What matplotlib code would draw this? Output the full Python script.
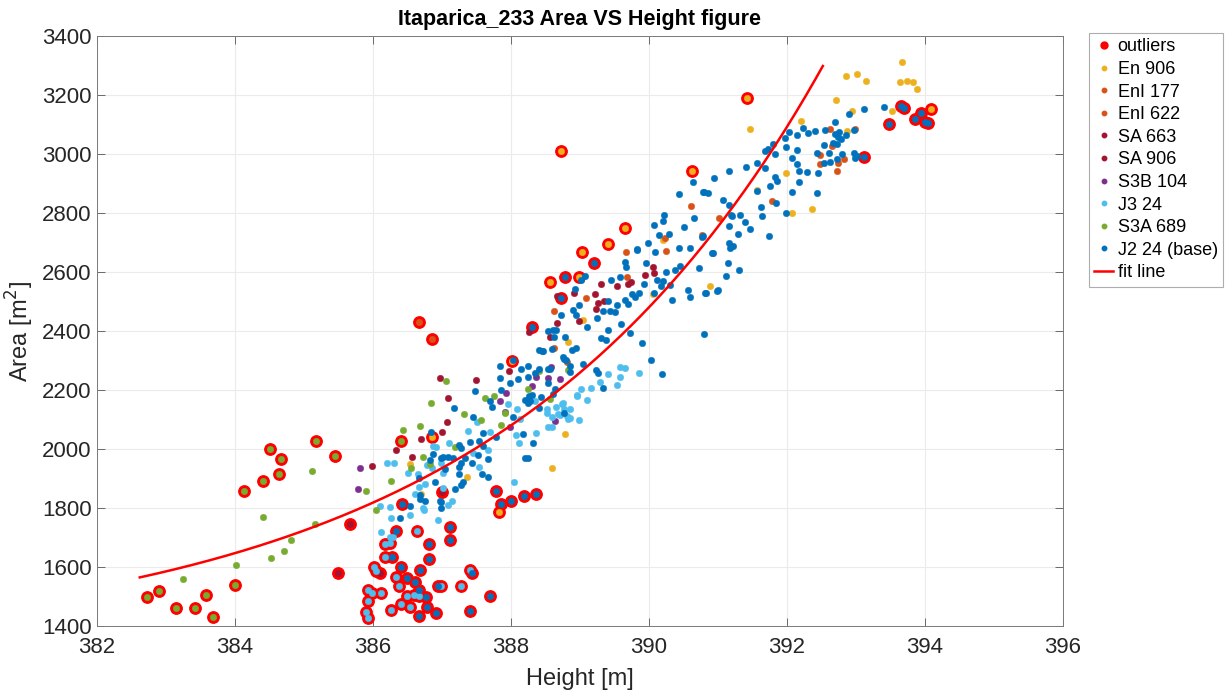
import numpy as np
import matplotlib
matplotlib.use("Agg")
import matplotlib.pyplot as plt
from matplotlib.lines import Line2D

plt.rcParams['font.family'] = ['Liberation Sans', 'DejaVu Sans']

# (height [m], area [m2]) per survey; *_out are the points flagged as outliers
en906 = [(386.54, 1948), (386.70, 1848), (387.36, 1906), (388.59, 1935), (388.78, 2050),
         (388.83, 2361), (389.04, 2437), (390.06, 2526), (390.21, 2709), (390.88, 2553),
         (391.57, 2878), (391.99, 2937), (392.07, 2801), (392.36, 2812), (391.46, 3084),
         (392.20, 3112), (392.71, 3183), (392.86, 3263), (393.01, 3271), (393.14, 3249),
         (393.64, 3243), (393.74, 3246), (393.82, 3243), (393.88, 3221), (393.67, 3311),
         (393.52, 3146), (392.94, 3146), (392.87, 3078)]
en906_out = [(386.85, 2042), (387.83, 1785), (388.02, 2298), (388.57, 2566), (388.98, 2584),
             (389.03, 2669), (388.73, 3011), (390.62, 2943), (389.65, 2750), (389.40, 2696),
             (391.42, 3190), (394.09, 3152)]

eni177 = [(388.63, 2344), (388.81, 2296), (388.63, 2468), (389.09, 2513), (389.68, 2584),
          (389.67, 2668)]
eni177_out = [(386.67, 2430), (386.86, 2373)]
eni622 = [(390.25, 2671), (390.23, 2716), (390.61, 2825), (391.02, 2783), (390.77, 2726),
          (391.78, 2841), (392.48, 2997), (392.62, 3084), (392.66, 3027), (392.74, 2970),
          (392.73, 2943), (392.83, 2984), (392.99, 3084), (392.48, 2966)]

sa663 = [(388.92, 2530), (388.66, 2520), (389.22, 2525), (389.26, 2494), (389.35, 2502),
         (389.23, 2475), (388.99, 2434), (388.67, 2428), (388.57, 2379), (389.31, 2558),
         (389.53, 2553), (389.70, 2558), (389.74, 2567), (389.94, 2589), (390.06, 2616),
         (390.07, 2598)]
sa906 = [(385.99, 1943), (386.34, 1997), (386.57, 1972), (386.69, 2035), (387.00, 2059),
         (386.97, 2242), (387.09, 2172), (387.50, 2235), (387.97, 2263), (388.26, 2396),
         (387.08, 2092)]
sa906_out = [(385.50, 1579), (385.67, 1746), (387.00, 1853), (386.10, 1578)]

s3b104 = [(385.81, 1935), (385.79, 1865), (387.84, 2164), (387.93, 2191), (388.31, 2212),
          (388.37, 2245), (387.92, 2124), (388.58, 2277), (388.71, 2236), (387.99, 2076),
          (388.54, 2240), (388.64, 2096)]

j3_24 = [(386.10, 1807), (386.25, 1802), (386.26, 1765), (386.11, 1720), (386.24, 1703),
         (386.29, 1703), (386.53, 1776), (386.61, 1848), (386.74, 1793), (386.94, 1759),
         (387.14, 1822), (386.20, 1954), (386.31, 1954), (386.65, 1915), (386.67, 1870),
         (386.92, 2008), (387.95, 2153), (388.09, 2136), (388.75, 2155), (388.95, 2180),
         (388.52, 2136), (388.65, 2142), (388.77, 2136), (388.86, 2136), (388.68, 2119),
         (388.81, 2112), (388.83, 2101), (387.51, 2092), (387.38, 2062), (388.13, 2101),
         (388.07, 2048), (388.37, 2053), (388.53, 2075), (388.60, 2076), (388.12, 2022),
         (386.87, 2010), (387.10, 2020), (387.67, 1997), (387.45, 1986), (386.99, 1954),
         (387.53, 1940), (386.51, 1918), (386.78, 1946), (386.85, 1935), (386.76, 1881),
         (387.02, 1868), (388.05, 1887), (387.09, 1810), (389.41, 2254), (389.58, 2277),
         (389.65, 2274), (389.58, 2245), (389.86, 2257), (389.29, 2228), (389.16, 2206),
         (389.02, 2203), (388.95, 2183), (389.10, 2166), (389.54, 2217), (388.74, 2153),
         (388.59, 2110), (388.52, 2121), (388.71, 2115), (388.98, 2098), (388.85, 2106),
         (388.35, 2161), (386.73, 1799), (387.02, 1918), (387.70, 2059)]
j3_24_out = [(386.64, 1722), (386.17, 1677), (386.25, 1680), (386.17, 1635), (386.01, 1599),
             (386.05, 1588), (387.41, 1590), (386.33, 1567), (386.38, 1537), (386.99, 1537),
             (387.28, 1537), (385.93, 1522), (386.11, 1511), (385.98, 1511), (385.93, 1486),
             (386.49, 1502), (386.59, 1505), (386.67, 1502), (386.54, 1466), (386.41, 1476),
             (386.26, 1454), (385.90, 1449), (385.93, 1426)]

s3a689 = [(383.25, 1558), (384.02, 1608), (384.41, 1771), (384.52, 1629), (384.71, 1653),
          (384.81, 1692), (385.12, 1924), (385.16, 1747), (385.90, 1859), (386.04, 1793),
          (386.26, 1893), (386.55, 1935), (386.83, 1948), (386.44, 2064), (386.68, 2078),
          (386.84, 2155), (387.06, 2231), (387.32, 2117), (387.63, 2174), (387.75, 2180),
          (387.56, 2098), (387.92, 2123), (387.86, 2080), (388.24, 2203), (388.57, 2168),
          (388.41, 2264), (388.82, 2268), (386.73, 1972), (387.19, 2006)]
s3a689_out = [(382.73, 1498), (382.90, 1518), (383.14, 1461), (383.42, 1461), (383.58, 1506),
              (383.68, 1431), (384.00, 1539), (384.13, 1859), (384.41, 1892), (384.51, 2001),
              (384.64, 1916), (384.67, 1965), (385.17, 2027), (385.45, 1975), (386.40, 2026)]

j2_24 = [(386.39, 1765), (386.54, 1807), (386.68, 1830), (386.76, 1822), (386.99, 1799),
         (386.97, 1822), (386.87, 1983), (386.99, 1969), (387.18, 2139), (387.48, 2196),
         (387.84, 2282), (388.14, 2271), (388.24, 2282), (387.84, 2240), (387.99, 2224),
         (387.86, 2199), (387.70, 2164), (387.73, 2144), (388.35, 2258), (388.03, 2108),
         (387.45, 2109), (388.03, 2302), (388.41, 2336), (388.54, 2400), (388.63, 2379),
         (388.78, 2379), (388.60, 2339), (388.46, 2332), (388.77, 2304), (388.86, 2282),
         (388.41, 2270), (388.53, 2270), (388.10, 2238), (388.25, 2245), (388.54, 2223),
         (388.64, 2202), (388.26, 2180), (388.28, 2161), (388.21, 2166), (388.25, 2155),
         (388.40, 2138), (386.84, 2059), (387.59, 2053), (387.79, 2040), (388.18, 2052),
         (388.32, 2020), (387.24, 2014), (387.28, 2002), (387.41, 2023), (387.54, 2028),
         (387.60, 2011), (386.83, 1963), (387.01, 1974), (387.09, 1972), (387.16, 1969),
         (387.28, 1954), (387.52, 1980), (387.66, 1966), (388.20, 1969), (388.25, 1971),
         (387.05, 1931), (387.24, 1940), (387.43, 1954), (387.58, 1915), (387.66, 1906),
         (387.24, 1915), (387.31, 1889), (387.28, 1877), (386.66, 1903), (386.90, 1889),
         (387.19, 1865), (386.68, 1844), (386.99, 1820), (387.34, 1969),
         (389.66, 2633), (389.67, 2618), (389.96, 2632), (390.45, 2622), (390.72, 2615),
         (390.92, 2663), (389.58, 2584), (389.45, 2573), (389.93, 2558), (390.11, 2573),
         (390.21, 2570), (390.25, 2599), (390.38, 2607), (390.18, 2551), (390.30, 2556),
         (389.75, 2525), (389.86, 2530), (389.80, 2516), (389.65, 2505), (389.69, 2491),
         (390.08, 2530), (390.33, 2505), (390.57, 2539), (390.59, 2516), (390.81, 2528),
         (390.99, 2537), (390.80, 2390), (388.93, 2541), (389.08, 2588), (389.02, 2573),
         (388.98, 2488), (389.41, 2500), (389.33, 2469), (389.43, 2469), (389.51, 2466),
         (389.53, 2488), (388.90, 2471), (388.94, 2454), (388.72, 2454), (389.10, 2413),
         (389.24, 2445), (389.40, 2403), (389.31, 2377), (389.38, 2370), (389.60, 2424),
         (389.72, 2394), (388.61, 2403), (388.65, 2403), (388.45, 2333), (388.89, 2336),
         (388.94, 2341), (388.76, 2311), (388.80, 2302), (389.04, 2288), (389.23, 2268),
         (389.26, 2257), (389.90, 2359), (390.03, 2302), (390.19, 2253), (389.34, 2206),
         (388.57, 2271), (388.86, 2260), (388.61, 2187), (388.44, 2177), (388.30, 2183),
         (388.77, 2121), (389.83, 2675),
         (391.16, 2943), (390.64, 2906), (390.94, 2917), (390.44, 2865), (390.79, 2870),
         (390.85, 2868), (391.08, 2844), (391.16, 2827), (390.65, 2784), (391.19, 2793),
         (390.22, 2793), (390.21, 2772), (390.08, 2759), (390.51, 2751), (391.16, 2756),
         (390.29, 2730), (390.15, 2724), (390.77, 2720), (389.99, 2698), (389.83, 2677),
         (390.09, 2668), (390.44, 2681), (390.59, 2682), (390.93, 2665), (391.16, 2697),
         (391.22, 2689), (391.29, 2728), (391.14, 2630),
         (392.03, 3073), (392.23, 3087), (392.41, 3079), (392.31, 3071), (392.14, 3063),
         (391.97, 3054), (391.80, 3034), (391.68, 3010), (391.73, 3016), (391.83, 2999),
         (391.99, 3025), (392.15, 3014), (392.07, 2986), (392.14, 2966), (392.17, 2943),
         (392.29, 2938), (392.17, 2906), (391.56, 2969), (391.40, 2957), (391.68, 2952),
         (391.83, 2921), (391.85, 2910), (391.76, 2893), (391.56, 2874), (392.07, 2870),
         (392.44, 2867), (390.80, 2870), (391.84, 2833), (391.62, 2822), (391.20, 2791),
         (391.32, 2793), (391.39, 2771), (391.46, 2747), (391.64, 2789), (391.98, 2800),
         (391.74, 2723), (390.78, 2722), (391.17, 2680), (391.30, 2607), (391.11, 2587),
         (390.82, 2529), (391.00, 2539),
         (392.43, 3004), (392.54, 3031), (392.55, 3082), (392.69, 3110), (392.76, 3076),
         (392.70, 3068), (392.86, 3065), (392.97, 3081), (392.74, 3057), (392.73, 3034),
         (392.61, 3004), (392.80, 3001), (392.73, 2984), (392.62, 2974), (392.53, 2970),
         (392.45, 2935), (392.97, 3005), (393.01, 2993), (392.99, 2987), (393.41, 3160),
         (393.12, 3152), (392.90, 3134), (392.78, 3052), (392.67, 3037)]
j2_24_out = [(386.42, 1814), (386.33, 1722), (387.11, 1737), (387.11, 1692), (386.81, 1678),
             (386.28, 1635), (386.81, 1628), (386.41, 1601), (386.68, 1590), (387.43, 1579),
             (386.50, 1564), (386.61, 1549), (386.67, 1522), (386.94, 1537), (386.77, 1497),
             (386.79, 1466), (386.91, 1443), (386.67, 1434), (387.41, 1452), (387.69, 1500),
             (387.79, 1858), (387.85, 1813), (388.00, 1823), (388.19, 1839), (388.36, 1847),
             (388.30, 2413), (389.21, 2632), (388.78, 2584), (388.72, 2513), (393.12, 2989),
             (393.48, 3102), (393.65, 3163), (393.70, 3155), (393.86, 3118), (393.95, 3140),
             (394.00, 3110), (394.04, 3105)]

# exponential fit  A = a + b * exp(k * (h - 382)), drawn over the fitted height range
fit_a0, fit_b, fit_k = 1323.0, 211.9, 0.2122
fit_range = (382.62, 392.52)

series = [
    ("En 906", en906 + en906_out, "#EDB120"),
    ("EnI 177", eni177 + eni177_out, "#D95319"),
    ("EnI 622", eni622, "#D95319"),
    ("SA 663", sa663, "#A2142F"),
    ("SA 906", sa906 + sa906_out, "#A2142F"),
    ("S3B 104", s3b104, "#7E2F8E"),
    ("J3 24", j3_24 + j3_24_out, "#4DBEEE"),
    ("S3A 689", s3a689 + s3a689_out, "#77AC30"),
    ("J2 24 (base)", j2_24 + j2_24_out, "#0072BD"),
]
outliers = en906_out + eni177_out + sa906_out + j3_24_out + s3a689_out + j2_24_out

fig = plt.figure(figsize=(12.26, 6.95), dpi=100)
ax = fig.add_axes([0.0791, 0.0993, 0.7879, 0.8489])

oh, oa = zip(*outliers)
ax.plot(oh, oa, 'o', ms=8.2, mfc='#FF0000', mec='#FF0000', mew=1.0, zorder=2)
for name, pts, col in series:
    h, a = zip(*pts)
    ax.plot(h, a, 'o', ms=4.7, mfc=col, mec=col, mew=0.3, zorder=3)

hf = np.linspace(*fit_range, 200)
ax.plot(hf, fit_a0 + fit_b * np.exp(fit_k * (hf - 382)), '-', color='#FF0000', lw=1.8, zorder=4)

ax.set_xlim(382, 396)
ax.set_ylim(1400, 3400)
ax.set_xticks(np.arange(382, 397, 2))
ax.set_yticks(np.arange(1400, 3401, 200))
ax.grid(True, color='#ebebeb', lw=0.8)
ax.set_axisbelow(True)
ax.tick_params(direction='in', length=6, width=0.6, color='#555555', labelcolor='#262626',
               labelsize=16, top=True, right=True)
ax.tick_params(axis='x', pad=8)
ax.tick_params(axis='y', pad=4)
for sp in ax.spines.values():
    sp.set_color('#7a7a7a')
    sp.set_linewidth(0.7)

ax.set_xlabel('Height [m]', fontsize=17, color='#262626', labelpad=7)
ax.set_ylabel('Area [m$^2$]', fontsize=17, color='#262626', labelpad=4)
ax.set_title('Itaparica_233 Area VS Height figure', fontsize=15.5, fontweight='bold', pad=8)

handles = [Line2D([], [], ls='none', marker='o', ms=5, mfc='#FF0000', mec='#FF0000')]
labels = ['outliers']
for name, pts, col in series:
    handles.append(Line2D([], [], ls='none', marker='o', ms=3.2, mfc=col, mec=col))
    labels.append(name)
handles.append(Line2D([], [], color='#FF0000', lw=1.8))
labels.append('fit line')
leg = fig.legend(handles, labels, loc='upper left', bbox_to_anchor=(0.888, 0.9525),
                 fontsize=13, frameon=True, fancybox=False, edgecolor='#999999',
                 labelspacing=0.31, handlelength=1.05, handletextpad=0.25, borderpad=0.3,
                 borderaxespad=0)
leg.get_frame().set_linewidth(0.8)

fig.savefig('out.png', dpi=100)
